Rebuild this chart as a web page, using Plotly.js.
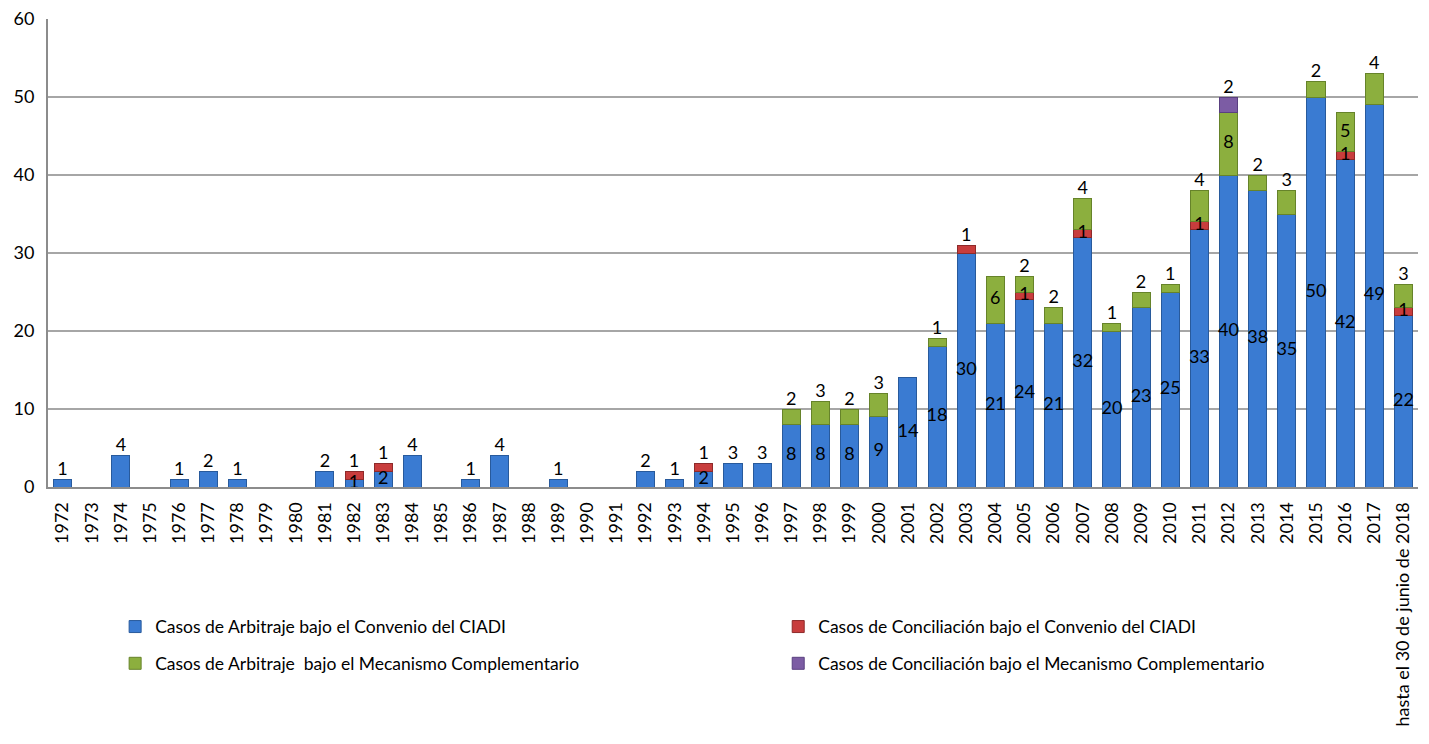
<!DOCTYPE html>
<html>
<head>
<meta charset="utf-8">
<script src="https://cdn.plot.ly/plotly-3.0.1.min.js"></script>
<style>html,body{margin:0;padding:0;background:#fff;}#chart{width:1429px;height:744px;}</style>
</head>
<body>
<div id="chart"></div>
<script>
const categories = ["1972","1973","1974","1975","1976","1977","1978","1979","1980","1981","1982","1983","1984","1985","1986","1987","1988","1989","1990","1991","1992","1993","1994","1995","1996","1997","1998","1999","2000","2001","2002","2003","2004","2005","2006","2007","2008","2009","2010","2011","2012","2013","2014","2015","2016","2017","hasta el 30 de junio de 2018"];
const arbitrajeCIADI =    [1,0,4,0,1,2,1,0,0,2,1,2,4,0,1,4,0,1,0,0,2,1,2,3,3,8,8,8,9,14,18,30,21,24,21,32,20,23,25,33,40,38,35,50,42,49,22];
const conciliacionCIADI = [0,0,0,0,0,0,0,0,0,0,1,1,0,0,0,0,0,0,0,0,0,0,1,0,0,0,0,0,0,0,0,1,0,1,0,1,0,0,0,1,0,0,0,0,1,0,1];
const arbitrajeMC =       [0,0,0,0,0,0,0,0,0,0,0,0,0,0,0,0,0,0,0,0,0,0,0,0,0,2,3,2,3,0,1,0,6,2,2,4,1,2,1,4,8,2,3,2,5,4,3];
const conciliacionMC =    [0,0,0,0,0,0,0,0,0,0,0,0,0,0,0,0,0,0,0,0,0,0,0,0,0,0,0,0,0,0,0,0,0,0,0,0,0,0,0,0,2,0,0,0,0,0,0];
const seriesNames = [
  "Casos de Arbitraje bajo el Convenio del CIADI",
  "Casos de Conciliación bajo el Convenio del CIADI",
  "Casos de Arbitraje  bajo el Mecanismo Complementario",
  "Casos de Conciliación bajo el Mecanismo Complementario"
];

const FONT = "Lato, 'Open Sans', sans-serif";
const series = [arbitrajeCIADI, conciliacionCIADI, arbitrajeMC, conciliacionMC];
const fills = ["#3A7BD2", "#C83D3D", "#8CAF3E", "#7C5CA4"];
const edges = ["#285A9C", "#8E2A2A", "#66832A", "#5A4080"];
const legendFor = ["legend", "legend2", "legend", "legend2"];

const traces = [];
series.forEach((vals, s) => {
  traces.push({
    type: "bar", x: categories, y: vals.map(v => (v > 0 ? v : null)), name: seriesNames[s],
    marker: {color: fills[s], line: {color: edges[s], width: 1}},
    legend: legendFor[s], legendgroup: "g" + s,
    hoverinfo: "skip"
  });
});

// labels: centred in segment, or above it when it is the top segment and small
const lx = [], ly = [], lt = [], lp = [];
categories.forEach((c, i) => {
  let base = 0;
  const total = series.reduce((a, v) => a + v[i], 0);
  series.forEach((vals, s) => {
    const v = vals[i];
    if (v > 0) {
      const top = base + v;
      const isTop = Math.abs(top - total) < 1e-9;
      lx.push(c); lt.push(String(v));
      if (isTop && v <= 4) { ly.push(top); lp.push("top center"); }
      else { ly.push(base + v / 2); lp.push("middle center"); }
      base = top;
    }
  });
});
traces.push({
  type: "scatter", mode: "text", x: lx, y: ly, text: lt, textposition: lp,
  textfont: {family: FONT, size: 18, color: "#000"},
  showlegend: false, hoverinfo: "skip", cliponaxis: false
});

const layout = {
  width: 1429, height: 744,
  margin: {l: 48, r: 11, t: 19, b: 257},
  paper_bgcolor: "#fff", plot_bgcolor: "#fff",
  barmode: "stack", bargap: 0.38,
  font: {family: FONT, size: 18, color: "#000"},
  xaxis: {
    type: "category", tickangle: -90, automargin: false,
    range: [-0.5, categories.length - 0.5],
    showgrid: false, showline: true, linecolor: "#8c8c8c", linewidth: 2,
    ticks: "", ticklabelstandoff: 6,
    tickfont: {family: FONT, size: 18, color: "#000"}
  },
  yaxis: {
    range: [0, 60], dtick: 10, automargin: false,
    showgrid: true, gridcolor: "#a6a6a6", gridwidth: 1.5,
    showline: true, linecolor: "#8c8c8c", linewidth: 2,
    zeroline: false, ticks: "", ticklabelstandoff: 8,
    tickfont: {family: FONT, size: 18, color: "#000"}
  },
  legend: {
    orientation: "v", x: 0.049, xanchor: "left", y: -0.26, yanchor: "top",
    traceorder: "grouped", tracegroupgap: 11,
    font: {family: FONT, size: 17.5, color: "#000"}, bgcolor: "rgba(0,0,0,0)"
  },
  legend2: {
    orientation: "v", x: 0.533, xanchor: "left", y: -0.26, yanchor: "top",
    traceorder: "grouped", tracegroupgap: 11,
    font: {family: FONT, size: 17.5, color: "#000"}, bgcolor: "rgba(0,0,0,0)"
  },
  showlegend: true
};

Plotly.newPlot("chart", traces, layout, {displayModeBar: false, staticPlot: true});
</script>
</body>
</html>
